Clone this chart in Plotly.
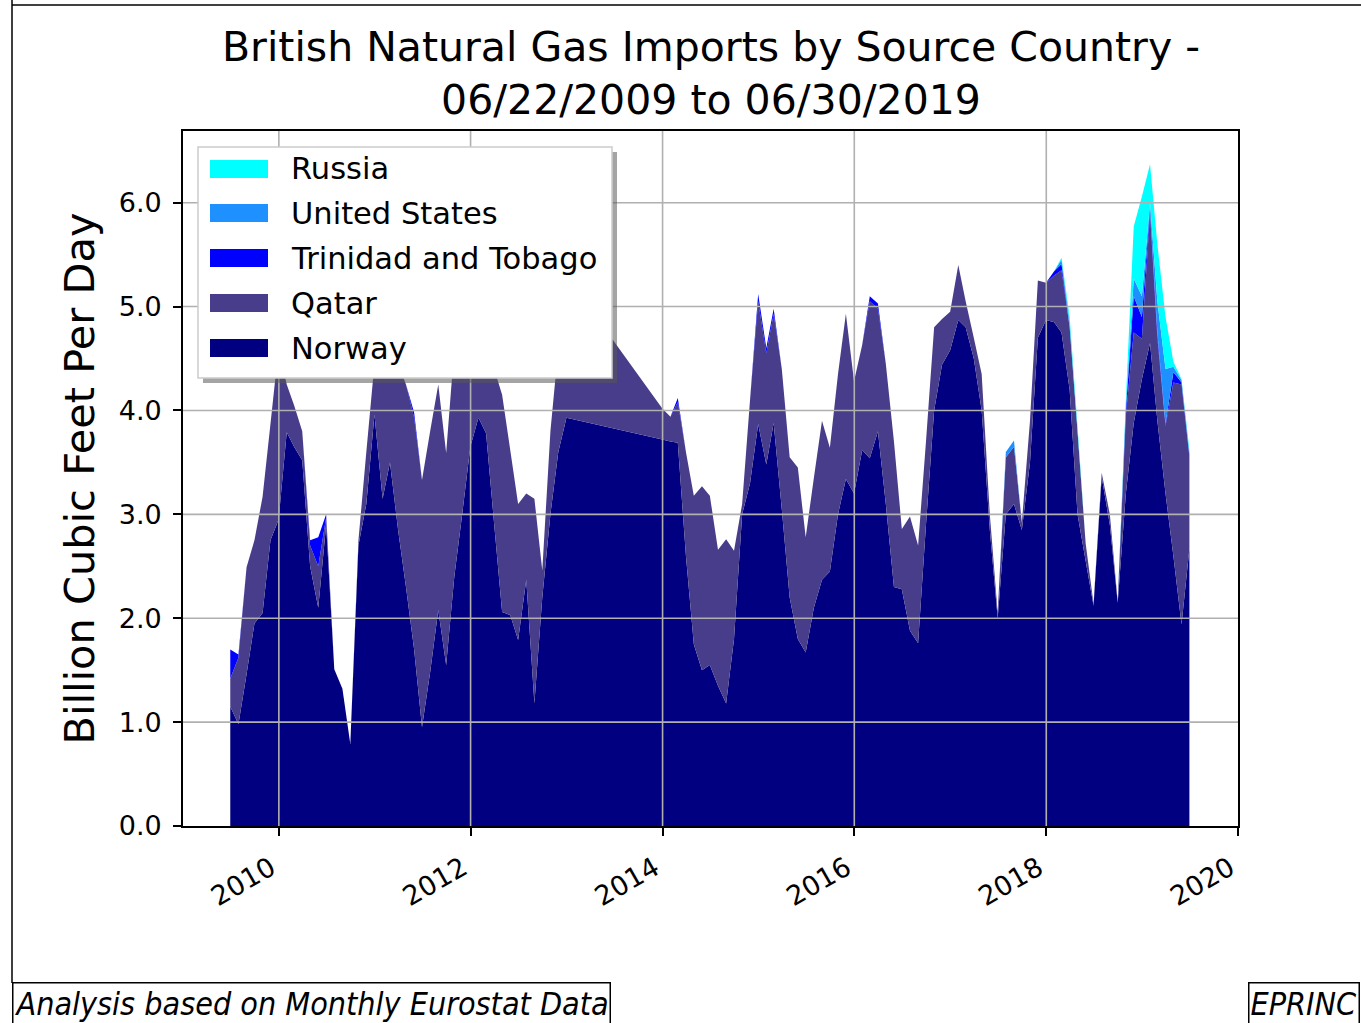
import pandas as pd
import plotly.graph_objects as go

# ---------------- data ----------------
# monthly observations (month-end); Jan-Nov 2013 are missing in the source data
month_starts = pd.date_range("2009-06-01", "2019-06-01", freq="MS")
missing_months = ["2013-%02d" % m for m in range(1, 12)]
dates = [(d + pd.offsets.MonthEnd(0)).strftime("%Y-%m-%d")
         for d in month_starts if d.strftime("%Y-%m") not in missing_months]

norway = [
    1.15, 0.98, 1.46, 1.95, 2.05, 2.75, 2.95, 3.79, 3.65, 3.52,
    2.50, 2.10, 2.90, 1.51, 1.32, 0.79, 2.70, 3.10, 3.96, 3.15,
    3.50, 2.85, 2.30, 1.70, 0.95, 1.48, 2.08, 1.55, 2.40, 3.00,
    3.65, 3.93, 3.78, 2.90, 2.06, 2.03, 1.79, 2.37, 1.18, 2.20,
    3.00, 3.60, 3.93,
    3.72, 3.70, 3.69, 2.60, 1.75, 1.50,
    1.55, 1.35, 1.18, 1.80, 3.00, 3.30, 3.87, 3.48, 3.88, 3.05,
    2.20, 1.80, 1.67, 2.10, 2.37, 2.45, 3.00, 3.34, 3.20, 3.62,
    3.54, 3.80, 3.10, 2.30, 2.28, 1.88, 1.76, 2.90, 4.00, 4.44,
    4.58, 4.87, 4.80, 4.50, 4.00, 2.85, 2.00, 3.00, 3.10, 2.85,
    3.50, 4.70, 4.87, 4.85, 4.75, 4.20, 3.00, 2.55, 2.12, 3.36,
    2.90, 2.15, 3.20, 3.88, 4.30, 4.65, 3.90, 3.20, 2.60, 1.94,
    2.67,
]

qatar = [
    0.27, 0.64, 1.03, 0.80, 1.12, 1.12, 1.65, 0.46, 0.40, 0.28,
    0.20, 0.40, 0.07, 0.00, 0.00, 0.00, 0.05, 0.50, 0.49, 1.50,
    1.10, 1.60, 1.95, 2.23, 2.38, 2.32, 2.17, 2.04, 2.20, 1.80,
    1.25, 0.92, 0.87, 1.50, 2.09, 1.59, 1.31, 0.83, 1.97, 0.26,
    0.80, 1.00, 1.37,
    0.30, 0.24, 0.39, 1.00, 1.43, 1.77,
    1.63, 1.31, 1.58, 0.85, 0.10, 0.80, 1.18, 1.07, 1.05, 1.35,
    1.35, 1.65, 1.11, 1.25, 1.53, 1.19, 1.35, 1.59, 1.08, 1.01,
    1.51, 1.18, 1.35, 1.40, 0.58, 1.10, 0.94, 0.80, 0.80, 0.44,
    0.37, 0.53, 0.25, 0.20, 0.35, 0.15, 0.05, 0.55, 0.55, 0.07,
    0.40, 0.55, 0.36, 0.45, 0.60, 0.60, 0.80, 0.17, 0.02, 0.04,
    0.10, 0.01, 0.75, 0.87, 0.39, 1.25, 0.80, 0.65, 1.67, 2.31,
    0.88,
]

# small contributions, by month (all other months are zero)
trinidad_by_month = {
    "2009-06": 0.28, "2009-07": 0.03, "2010-04": 0.05, "2010-05": 0.28,
    "2010-06": 0.03, "2011-05": 0.05, "2014-02": 0.04, "2014-12": 0.07,
    "2015-01": 0.05, "2015-02": 0.05, "2016-02": 0.05, "2016-03": 0.05,
    "2018-01": 0.04, "2018-02": 0.06, "2018-10": 0.05, "2018-11": 0.35,
    "2018-12": 0.21, "2019-01": 0.05, "2019-02": 0.05, "2019-03": 0.02,
    "2019-04": 0.10, "2019-05": 0.02, "2019-06": 0.02,
}
us_by_month = {
    "2017-07": 0.05, "2017-08": 0.06, "2018-02": 0.04, "2018-03": 0.05,
    "2018-10": 0.05, "2018-11": 0.17, "2018-12": 0.20, "2019-01": 0.05,
    "2019-02": 0.30, "2019-03": 0.53, "2019-04": 0.05, "2019-05": 0.02,
    "2019-06": 0.02,
}
russia_by_month = {
    "2018-02": 0.02, "2018-03": 0.05, "2018-04": 0.05, "2018-10": 0.05,
    "2018-11": 0.50, "2018-12": 0.96, "2019-01": 0.37, "2019-02": 0.55,
    "2019-03": 0.50, "2019-04": 0.05, "2019-05": 0.01, "2019-06": 0.03,
}

trinidad = [trinidad_by_month.get(d[:7], 0.0) for d in dates]
united_states = [us_by_month.get(d[:7], 0.0) for d in dates]
russia = [russia_by_month.get(d[:7], 0.0) for d in dates]

series_names = ["Norway", "Qatar", "Trinidad and Tobago", "United States", "Russia"]
series_values = [norway, qatar, trinidad, united_states, russia]
series_colors = ["#000080", "#483D8B", "#0000FF", "#1E90FF", "#00FFFF"]

year_ticks = [2010, 2012, 2014, 2016, 2018, 2020]
grid_years = [2010, 2012, 2014, 2016, 2018]
y_ticks = [0, 1, 2, 3, 4, 5, 6]

# ---------------- layout geometry (pixels) ----------------
W, H = 1361, 1023
PL, PR, PT, PB = 183, 1238, 131, 826


def px_x(p):
    return (p - PL) / (PR - PL)


def px_y(p):
    return (PB - p) / (PB - PT)


FONT = "DejaVu Sans"
FOOT_FONT = "DejaVu Sans Condensed, DejaVu Sans"

fig = go.Figure()
for name, vals, color in zip(series_names, series_values, series_colors):
    fig.add_trace(go.Scatter(
        x=dates, y=vals, name=name, mode="none", stackgroup="one",
        fillcolor=color, showlegend=False,
    ))

shapes = []
# grid drawn above the filled areas (as in the source)
grid_style = dict(color="#b0b0b0", width=1.6)
for v in y_ticks[1:]:
    shapes.append(dict(type="line", xref="paper", yref="y", x0=0, x1=1, y0=v, y1=v,
                       line=grid_style, layer="above"))
for yr in grid_years:
    shapes.append(dict(type="line", xref="x", yref="paper", x0="%d-01-01" % yr,
                       x1="%d-01-01" % yr, y0=0, y1=1, line=grid_style, layer="above"))

# legend (drawn manually to match the wide colour patches)
lx0, ly0, lx1, ly1 = 198, 147, 612, 378
shapes.append(dict(type="rect", xref="paper", yref="paper",
                   x0=px_x(lx0 + 5), x1=px_x(lx1 + 5), y0=px_y(ly1 + 5), y1=px_y(ly0 + 5),
                   fillcolor="rgba(90,90,90,0.55)", line=dict(width=0), layer="above"))
shapes.append(dict(type="rect", xref="paper", yref="paper",
                   x0=px_x(lx0), x1=px_x(lx1), y0=px_y(ly1), y1=px_y(ly0),
                   fillcolor="white", line=dict(color="#cccccc", width=1.5), layer="above"))
legend_order = list(reversed(range(len(series_names))))
row_y = [169, 213, 258, 303, 348]
annotations = []
for k, idx in enumerate(legend_order):
    cy = row_y[k]
    shapes.append(dict(type="rect", xref="paper", yref="paper",
                       x0=px_x(210), x1=px_x(268), y0=px_y(cy + 9), y1=px_y(cy - 9),
                       fillcolor=series_colors[idx], line=dict(width=0), layer="above"))
    annotations.append(dict(xref="paper", yref="paper", x=px_x(289), y=px_y(cy),
                            xanchor="left", yanchor="middle", showarrow=False,
                            text=series_names[idx],
                            font=dict(family=FONT, size=30.5, color="black")))

# figure border lines (left and top)
shapes.append(dict(type="line", xref="paper", yref="paper", x0=px_x(12), x1=px_x(12),
                   y0=px_y(0), y1=px_y(983), line=dict(color="black", width=1.5), layer="above"))
shapes.append(dict(type="line", xref="paper", yref="paper", x0=px_x(12), x1=px_x(1361),
                   y0=px_y(5), y1=px_y(5), line=dict(color="black", width=1.5), layer="above"))

# footer boxes
annotations.append(dict(xref="paper", yref="paper", x=px_x(12), y=px_y(982),
                        xanchor="left", yanchor="top", showarrow=False,
                        text="<i>Analysis based on Monthly Eurostat Data</i>",
                        font=dict(family=FOOT_FONT, size=32, color="black"),
                        bordercolor="black", borderwidth=1.5, borderpad=1, bgcolor="white"))
annotations.append(dict(xref="paper", yref="paper", x=px_x(1360), y=px_y(982),
                        xanchor="right", yanchor="top", showarrow=False,
                        text="<i>EPRINC</i>",
                        font=dict(family=FOOT_FONT, size=32, color="black"),
                        bordercolor="black", borderwidth=1.5, borderpad=1, bgcolor="white"))

axis_common = dict(
    showline=True, linecolor="black", linewidth=1.6, mirror=True,
    ticks="outside", ticklen=8, tickwidth=1.6, tickcolor="black",
    showgrid=False, zeroline=False, layer="above traces",
    tickfont=dict(family=FONT, size=27, color="black"),
)

fig.update_layout(
    width=W, height=H, autosize=False,
    margin=dict(l=PL, r=W - PR, t=PT, b=H - PB, pad=0),
    paper_bgcolor="white", plot_bgcolor="white",
    font=dict(family=FONT, color="black"),
    title=dict(text="British Natural Gas Imports by Source Country -<br>06/22/2009 to 06/30/2019",
               x=711 / W, xanchor="center",
               y=1 - 61 / H, yanchor="middle", yref="container",
               font=dict(family=FONT, size=41, color="black")),
    xaxis=dict(type="date", range=["2009-01-01", "2020-01-01"],
               tickvals=["%d-01-01" % y for y in year_ticks],
               ticktext=[str(y) for y in year_ticks],
               tickangle=-30, ticklabelstandoff=6, ticklabelshift=-8, **axis_common),
    yaxis=dict(range=[0, 6.69], tickvals=y_ticks,
               ticktext=["%.1f" % v for v in y_ticks], ticklabelstandoff=6,
               title=dict(text="Billion Cubic Feet Per Day", standoff=11,
                          font=dict(family=FONT, size=41.5, color="black")),
               **axis_common),
    shapes=shapes,
    annotations=annotations,
    showlegend=False,
)

fig.write_html("out.html", config={"displayModeBar": False},
               post_script="document.body.style.margin='0';")
